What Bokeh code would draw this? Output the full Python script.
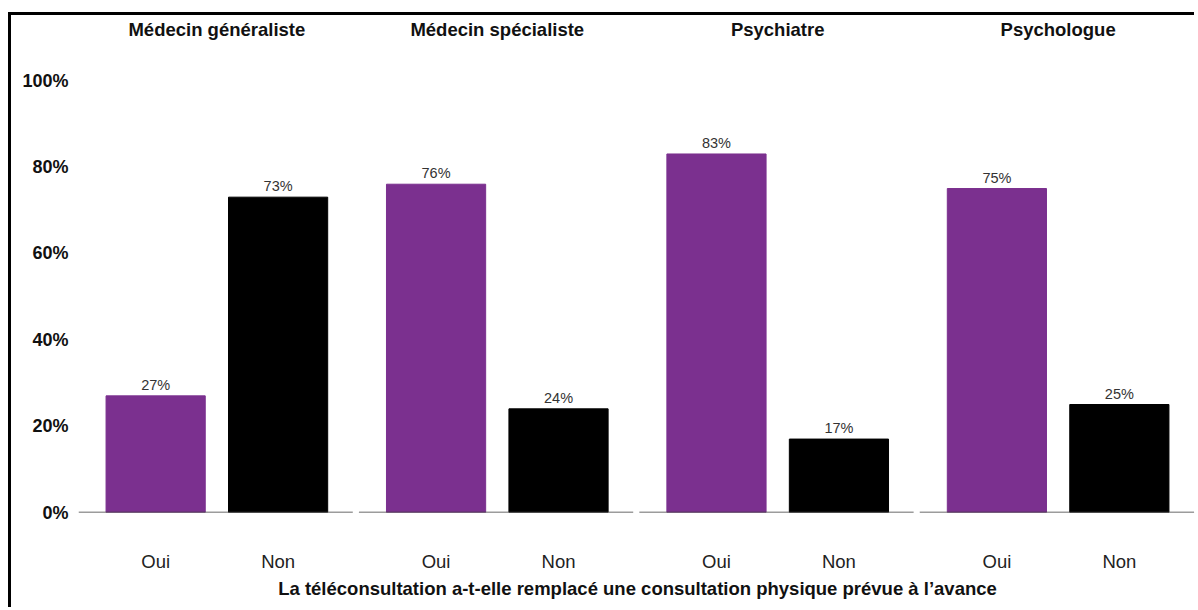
from bokeh.plotting import figure
from bokeh.models import FactorRange, Range1d, FixedTicker, NumeralTickFormatter, CategoricalAxis, ColumnDataSource
from bokeh.core.properties import value
from bokeh.embed import file_html
from bokeh.resources import INLINE

panels = ["Médecin généraliste", "Médecin spécialiste", "Psychiatre", "Psychologue"]
answers = ["Oui", "Non"]
oui_values = [27, 76, 83, 75]
non_values = [73, 24, 17, 25]
y_ticks = [0, 0.2, 0.4, 0.6, 0.8, 1.0]
x_title = "La téléconsultation a-t-elle remplacé une consultation physique prévue à l’avance"

PURPLE = "#7B308F"
FONT = "Liberation Sans"

factors = [(pn, a) for pn in panels for a in answers]
vals = []
colors = []
labels = []
for i, pn in enumerate(panels):
    for a, v in (("Oui", oui_values[i]), ("Non", non_values[i])):
        vals.append(v / 100)
        colors.append(PURPLE if a == "Oui" else "#000000")
        labels.append(f"{v}%")

src = ColumnDataSource(dict(x=factors, top=vals, color=colors, label=labels))

xr = FactorRange(*factors, factor_padding=0.0, group_padding=0.29,
                 range_padding=0.13, range_padding_units="absolute")

p = figure(x_range=xr, y_range=Range1d(0, 1.095), width=1186, height=595,
           output_backend="svg", toolbar_location=None,
           min_border_left=67, min_border_right=1, min_border_top=0, min_border_bottom=98,
           x_axis_location=None)
p.styles = {"margin-left": "11px", "margin-top": "15px", "box-shadow": "-3px -3px 0 0 #000000"}
p.outline_line_color = None
p.grid.grid_line_color = None
p.background_fill_color = "white"
p.border_fill_color = "white"

p.vbar(x="x", top="top", width=0.81, color="color", source=src)
p.text(x="x", y="top", text="label", source=src, text_align="center", text_baseline="bottom",
       y_offset=-3, text_font=value(FONT), text_font_size="14.5px", text_color="#333333")

# baselines per panel
bx0 = [(pn, "Oui", -0.63) for pn in panels]
bx1 = [(pn, "Non", 0.61) for pn in panels]
p.segment(x0=bx0, x1=bx1, y0=[0] * 4, y1=[0] * 4, line_color="#3a3a3a", line_width=1.5)

# y axis
ya = p.yaxis[0]
ya.ticker = FixedTicker(ticks=y_ticks)
ya.formatter = NumeralTickFormatter(format="0%")
ya.axis_line_color = None
ya.major_tick_line_color = None
ya.minor_tick_line_color = None
ya.major_tick_out = 0
ya.major_label_standoff = 10
ya.major_label_text_font = FONT
ya.major_label_text_font_style = "bold"
ya.major_label_text_font_size = "18px"
ya.major_label_text_color = "#111111"

# bottom axis: Oui / Non
xb = CategoricalAxis()
xb.axis_line_color = None
xb.major_tick_line_color = None
xb.major_tick_out = 0
xb.major_tick_in = 0
xb.separator_line_color = None
xb.major_label_standoff = 38
xb.major_label_text_font = FONT
xb.major_label_text_font_size = "18.5px"
xb.major_label_text_color = "#222222"
xb.group_text_font_size = "1px"
xb.group_text_color = None
xb.axis_label = x_title
xb.axis_label_standoff = 3
xb.axis_label_text_font = FONT
xb.axis_label_text_font_style = "bold"
xb.axis_label_text_font_size = "18.5px"
xb.axis_label_text_color = "#111111"
p.add_layout(xb, "below")

# top axis: panel titles
xt = CategoricalAxis()
xt.axis_line_color = None
xt.major_tick_line_color = None
xt.major_tick_out = 0
xt.major_tick_in = 0
xt.separator_line_color = None
xt.major_label_standoff = 0
xt.major_label_text_font_size = "1px"
xt.major_label_text_color = None
xt.group_text_font = FONT
xt.group_text_font_style = "bold"
xt.group_text_font_size = "18.5px"
xt.group_text_color = "#111111"
p.add_layout(xt, "above")

open("out.html", "w").write(file_html(p, INLINE))
